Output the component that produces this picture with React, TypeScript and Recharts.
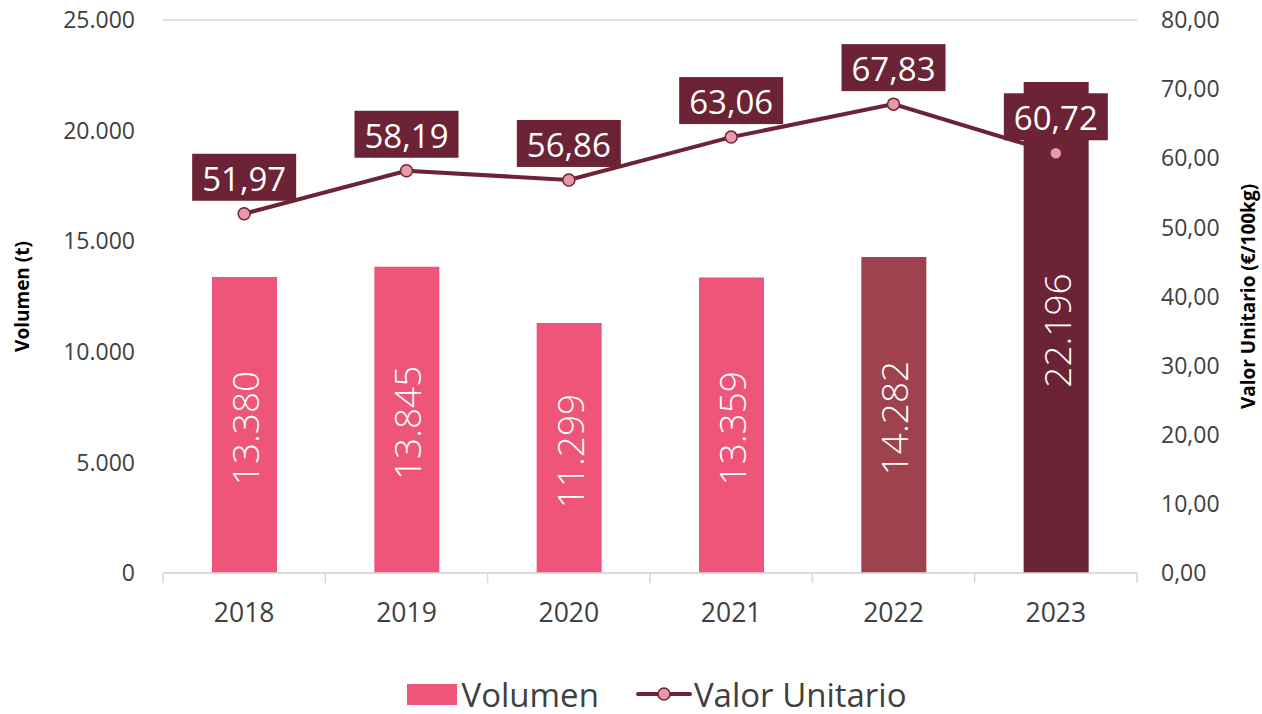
import React from 'react';
import { ComposedChart, Bar, Line, XAxis, YAxis, CartesianGrid, LabelList, Legend, Cell } from 'recharts';

const years = ['2018', '2019', '2020', '2021', '2022', '2023'];
const volumen = [13380, 13845, 11299, 13359, 14282, 22196];
const valorUnitario = [51.97, 58.19, 56.86, 63.06, 67.83, 60.72];
const barColors = ['#EF5579', '#EF5579', '#EF5579', '#EF5579', '#9E434E', '#6B2335'];
const leftTicks = [0, 5000, 10000, 15000, 20000, 25000];
const rightTicks = [0, 10, 20, 30, 40, 50, 60, 70, 80];

const data = years.map((y, i) => ({ year: y, volumen: volumen[i], valor: valorUnitario[i] }));

const FONT = '"Open Sans", "Noto Sans", sans-serif';
const DARK = '#6B2335';
const GRID = '#d9d9d9';
const X_TICK_MARGIN = 24;
const X_TICK_SIZE = 6;

const fmtThousands = (v: number) => v.toString().replace(/\B(?=(\d{3})+(?!\d))/g, '.');
const fmtDec = (v: number) => v.toFixed(2).replace('.', ',');

const XTick = (props: any) => {
  const { x, y, payload, index, visibleTicksCount } = props;
  const half = payload && payload.offset ? payload.offset : 81;
  const axisY = y - X_TICK_MARGIN - X_TICK_SIZE;
  const isLast = index === (visibleTicksCount ?? years.length) - 1;
  return (
    <g>
      <line x1={x - half} x2={x - half} y1={axisY} y2={axisY + 10} stroke={GRID} strokeWidth={1.5} />
      {isLast && <line x1={x + half} x2={x + half} y1={axisY} y2={axisY + 10} stroke={GRID} strokeWidth={1.5} />}
      <text x={x} y={y} dy="0.71em" textAnchor="middle" fill="#404040" fontSize={26.5} fontFamily={FONT}>
        {payload.value}
      </text>
    </g>
  );
};

const LineLabel = (props: any) => {
  const { x, y, value } = props;
  const w = 104;
  const h = 47;
  const bx = x - w / 2;
  const by = y - 13 - h;
  return (
    <g>
      <rect x={bx} y={by} width={w} height={h} fill={DARK} />
      <text x={x} y={by + h / 2 + 1} textAnchor="middle" dominantBaseline="central" fill="#fff" fontSize={33} fontFamily={FONT}>
        {fmtDec(value)}
      </text>
    </g>
  );
};

const BarLabel = (props: any) => {
  const { x, y, width, height, value } = props;
  const cx = x + width / 2;
  const cy = y + height / 2 + 3;
  return (
    <text x={cx} y={cy} transform={`rotate(-90 ${cx} ${cy})`} textAnchor="middle" dominantBaseline="central" fill="#fff" fontSize={37} fontWeight={300} fontFamily={FONT}>
      {fmtThousands(value)}
    </text>
  );
};

const AxisTitle = (props: any) => {
  const { viewBox, value, dxFromLeft } = props;
  const cx = viewBox.x + dxFromLeft;
  const cy = viewBox.y + viewBox.height / 2;
  return (
    <text x={cx} y={cy} transform={`rotate(-90 ${cx} ${cy})`} textAnchor="middle" dominantBaseline="central" fill="#000" fontSize={19} fontWeight={700} fontFamily={FONT}>
      {value}
    </text>
  );
};

const LegendContent = () => (
  <div style={{ height: 40, display: 'flex', justifyContent: 'center', alignItems: 'center', fontFamily: FONT, fontSize: 33, color: '#404040', paddingLeft: 52 }}>
    <div style={{ display: 'flex', alignItems: 'center', marginRight: 37 }}>
      <div style={{ width: 50, height: 21, background: '#EF5579', marginRight: 4 }} />
      <span>Volumen</span>
    </div>
    <div style={{ display: 'flex', alignItems: 'center' }}>
      <svg width={56} height={20} style={{ marginRight: 2 }}>
        <line x1={2} y1={10} x2={54} y2={10} stroke={DARK} strokeWidth={4} strokeLinecap="round" />
        <circle cx={28} cy={10} r={6} fill="#E899A8" stroke={DARK} strokeWidth={1.5} />
      </svg>
      <span>Valor Unitario</span>
    </div>
  </div>
);

export default function App() {
  return (
    <div style={{ position: 'absolute', left: 0, top: 0, width: 1262, height: 714, background: '#fff' }}>
      <ComposedChart width={1262} height={714} data={data} margin={{ top: 20, right: 0, bottom: 0, left: 0 }}>
        <CartesianGrid vertical={false} stroke={GRID} strokeWidth={1.5} />
        <XAxis
          dataKey="year"
          axisLine={{ stroke: GRID, strokeWidth: 1.5 }}
          tickLine={false}
          tickSize={X_TICK_SIZE}
          tick={<XTick />}
          tickMargin={X_TICK_MARGIN}
          height={101}
        />
        <YAxis
          yAxisId="left"
          domain={[0, 25000]}
          ticks={leftTicks}
          interval={0}
          tickFormatter={fmtThousands}
          axisLine={false}
          tickLine={false}
          tick={{ fill: '#404040', fontSize: 23, fontFamily: FONT }}
          tickMargin={22}
          width={163}
          label={<AxisTitle value="Volumen (t)" dxFromLeft={22} />}
        />
        <YAxis
          yAxisId="right"
          orientation="right"
          domain={[0, 80]}
          ticks={rightTicks}
          interval={0}
          tickFormatter={fmtDec}
          axisLine={false}
          tickLine={false}
          tick={{ fill: '#404040', fontSize: 23, fontFamily: FONT }}
          tickMargin={18}
          width={125}
          label={<AxisTitle value="Valor Unitario (€/100kg)" dxFromLeft={111} />}
        />
        <Legend verticalAlign="bottom" content={<LegendContent />} />
        <Bar yAxisId="left" dataKey="volumen" barSize={65} isAnimationActive={false}>
          {data.map((d, i) => (
            <Cell key={d.year} fill={barColors[i]} />
          ))}
          <LabelList dataKey="volumen" content={<BarLabel />} />
        </Bar>
        <Line
          yAxisId="right"
          dataKey="valor"
          stroke={DARK}
          strokeWidth={4}
          dot={{ r: 6, fill: '#E899A8', stroke: DARK, strokeWidth: 1.5 }}
          activeDot={false}
          isAnimationActive={false}
        >
          <LabelList dataKey="valor" content={<LineLabel />} />
        </Line>
      </ComposedChart>
    </div>
  );
}
